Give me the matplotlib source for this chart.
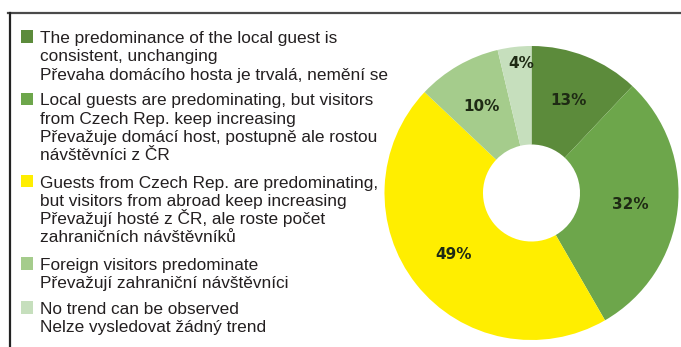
import matplotlib.pyplot as plt
from matplotlib.patches import Rectangle
from matplotlib.lines import Line2D

# share of answers per category
values = [13, 32, 49, 10, 4]
colors = ['#5c8b3b', '#6da64b', '#ffee00', '#a5cc8c', '#c6dfbd']
labels = [
    ['The predominance of the local guest is', 'consistent, unchanging',
     'Převaha domácího hosta je trvalá, nemění se'],
    ['Local guests are predominating, but visitors', 'from Czech Rep. keep increasing',
     'Převažuje domácí host, postupně ale rostou', 'návštěvníci z ČR'],
    ['Guests from Czech Rep. are predominating,', 'but visitors from abroad keep increasing',
     'Převažují hosté z ČR, ale roste počet', 'zahraničních návštěvníků'],
    ['Foreign visitors predominate', 'Převažují zahraniční návštěvníci'],
    ['No trend can be observed', 'Nelze vysledovat žádný trend'],
]
# baseline of the first line of each legend entry (pixels from top)
entry_base = [43, 105.5, 187.5, 270, 314]
line_step = 18.3

W, H = 681, 347
fig = plt.figure(figsize=(W / 100, H / 100), dpi=100)

# frame lines along top and left
fig.add_artist(Line2D([8 / W, 1], [1 - 13 / H, 1 - 13 / H], color='#4a4a4a', lw=1.6))
fig.add_artist(Line2D([9.5 / W, 9.5 / W], [0, 1 - 13 / H], color='#222222', lw=1.6))

# legend
for lines, col, base in zip(labels, colors, entry_base):
    fig.add_artist(Rectangle((21 / W, 1 - (base - 0.5) / H), 12 / W, 12.5 / H,
                             transform=fig.transFigure, facecolor=col, edgecolor='none'))
    for i, s in enumerate(lines):
        fig.text(40 / W, 1 - (base + i * line_step) / H, s, fontsize=12.4,
                 family='Liberation Sans', color='#231f20', va='baseline', ha='left')

# donut
cx, cy, r = 531.5, 193, 147
ax = fig.add_axes([(cx - r) / W, 1 - (cy + r) / H, 2 * r / W, 2 * r / H])
wedges, texts, autotexts = ax.pie(values, colors=colors, startangle=90, counterclock=False,
                                  wedgeprops=dict(width=0.67, edgecolor='none'),
                                  autopct=lambda p: '', pctdistance=0.68, radius=1)
for w, v, t in zip(wedges, values, autotexts):
    t.set_text(f'{v}%')
    t.set_fontsize(11)
    t.set_fontweight('bold')
    t.set_color('#1e2a14')
# small slice label sits near the rim
autotexts[-1].set_position((-0.07, 0.88))
ax.set_xlim(-1, 1)
ax.set_ylim(-1, 1)
ax.set_aspect('auto')

fig.savefig('out.png', dpi=100)
